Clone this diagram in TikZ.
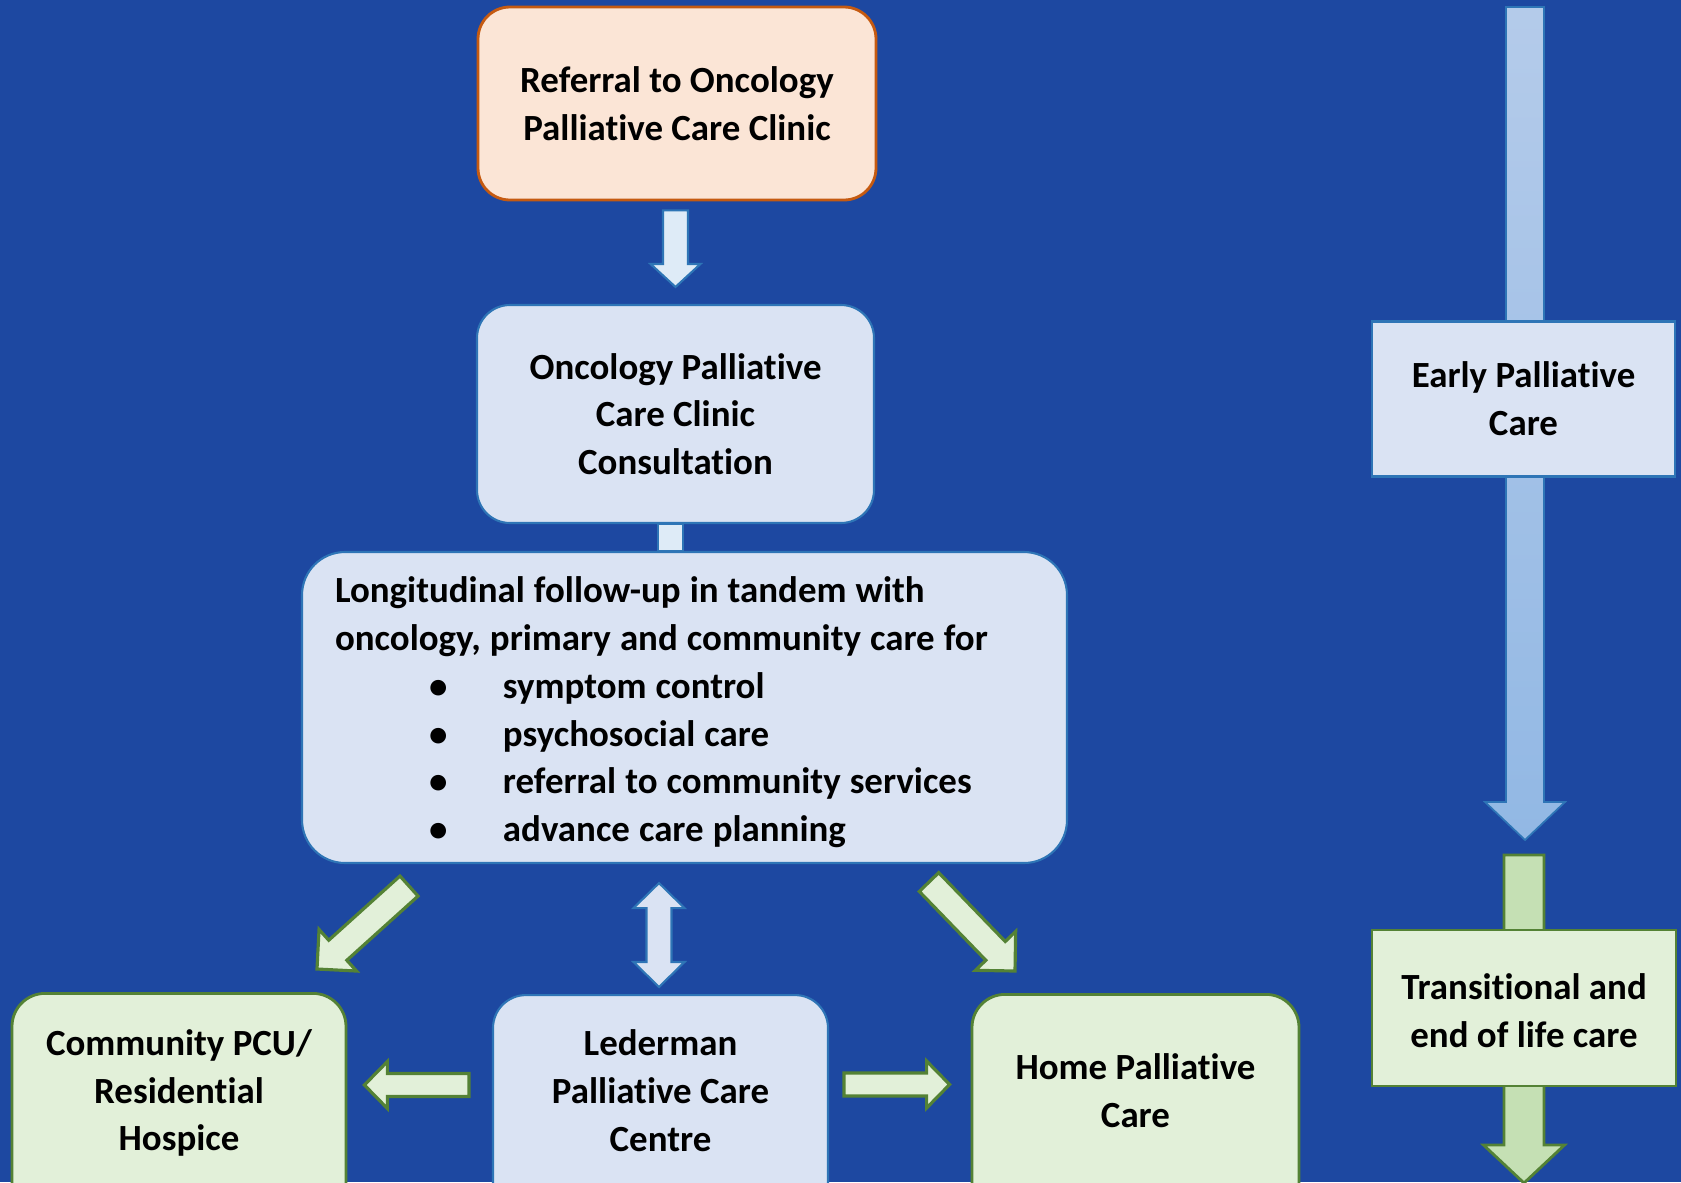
\documentclass[tikz,border=0pt]{standalone}
\usepackage{fontspec}
\setmainfont{Carlito}[Ligatures=NoCommon]
\usepackage{tikz}
\usetikzlibrary{calc}

\definecolor{bgblue}{RGB}{29,72,161}
\definecolor{peach}{RGB}{251,229,214}
\definecolor{rust}{RGB}{197,90,17}
\definecolor{paleblue}{RGB}{218,227,243}
\definecolor{lineblue}{RGB}{46,117,182}
\definecolor{arrowblue}{RGB}{222,235,247}
\definecolor{palegreen}{RGB}{226,240,217}
\definecolor{linegreen}{RGB}{84,130,53}
\definecolor{bargreen}{RGB}{197,224,180}
\definecolor{bartop}{RGB}{180,203,234}
\definecolor{barbot}{RGB}{146,184,228}

% block arrow: style, from, to, half shaft, half head, head length
\newcommand{\blockarr}[6]{%
  \coordinate (ba-h) at ($(#3)!#6!(#2)$);
  \path[#1] ($(#2)!#4!90:(#3)$) -- ($(ba-h)!#4!90:(#3)$) -- ($(ba-h)!#5!90:(#3)$) -- (#3)
    -- ($(ba-h)!#5!-90:(#3)$) -- ($(ba-h)!#4!-90:(#3)$) -- ($(#2)!#4!-90:(#3)$) -- cycle;}
% same with a head at both ends
\newcommand{\dblarr}[6]{%
  \coordinate (da-a) at ($(#2)!#6!(#3)$);
  \coordinate (da-b) at ($(#3)!#6!(#2)$);
  \path[#1] (#2) -- ($(da-a)!#5!90:(#3)$) -- ($(da-a)!#4!90:(#3)$) -- ($(da-b)!#4!90:(#3)$)
    -- ($(da-b)!#5!90:(#3)$) -- (#3) -- ($(da-b)!#5!-90:(#3)$) -- ($(da-b)!#4!-90:(#3)$)
    -- ($(da-a)!#4!-90:(#3)$) -- ($(da-a)!#5!-90:(#3)$) -- cycle;}
\newcommand{\bul}{\hspace*{9.4mm}\makebox[7.4mm][l]{\textbullet}}

\begin{document}
\begin{tikzpicture}[x=0.1mm, y=-0.1mm, every node/.style={font=\bfseries\fontsize{10.5}{13.6}\selectfont}]
\tikzstyle{referral} = [rectangle, rounded corners=3.2mm, draw=rust, line width=0.8pt, fill=peach, align=center]
\tikzstyle{bluebox} = [rectangle, rounded corners=3.3mm, draw=lineblue, line width=0.6pt, fill=paleblue, align=center]
\tikzstyle{greenbox} = [rectangle, rounded corners=3.3mm, draw=linegreen, line width=0.8pt, fill=palegreen, align=center]
\tikzstyle{stage} = [rectangle, line width=0.6pt, align=center, minimum width=30.3mm, minimum height=15.5mm]
\tikzstyle{boxtext} = [align=center, inner sep=0pt]
\tikzstyle{bluearrow} = [draw=lineblue, line width=0.6pt, fill=arrowblue]
\tikzstyle{greenarrow} = [draw=linegreen, line width=0.9pt, fill=palegreen]

\useasboundingbox (0,0) rectangle (1681,1182);
\fill [bgblue] (0,0) rectangle (1681,1182);
\clip (0,0) rectangle (1681,1182);

% left column
\node (ref) [referral, minimum width=39.8mm, minimum height=19.3mm] at (677,103.5) {Referral to Oncology\\Palliative Care Clinic};
\node (cons) [bluebox, minimum width=39.7mm, minimum height=21.8mm] at (675.5,414) {Oncology Palliative\\Care Clinic\\Consultation};
\node (longi) [bluebox, rounded corners=4.3mm, align=left, text width=69.9mm, inner xsep=3.3mm, minimum height=31.1mm] at (684.5,707.5)
  {\spaceskip=0.245em\relax\rule{0pt}{3.55mm}Longitudinal follow-up in tandem with\\oncology, primary and community care for\\\bul symptom control\\\bul psychosocial care\\\bul referral to community services\\\bul advance care planning};

\node (comm) [greenbox, minimum width=33.4mm, minimum height=26mm, anchor=north] at (179,992) {};
\node (led) [bluebox, minimum width=33.5mm, minimum height=26mm, anchor=north] at (660.5,994) {};
\node (home) [greenbox, minimum width=32.7mm, minimum height=26mm, anchor=north] at (1135.5,993) {};
\node (comm-t) [boxtext] at ($(comm.north)+(0,101)$) {Community PCU/\\Residential\\Hospice};
\node (led-t) [boxtext] at ($(led.north)+(0,96.5)$) {Lederman\\Palliative Care\\Centre};
\node (home-t) [boxtext] at ($(home.north)+(0,97.5)$) {Home Palliative\\Care};

\blockarr{bluearrow}{$(ref.south)+(-1.5,9)$}{$(cons.north)+(0,-17)$}{1.25mm}{2.5mm}{2.3mm}
\draw [bluearrow] ($(cons.south)+(-17.5,0)$) rectangle ($(cons.south |- longi.north)+(7.5,0)$);
\blockarr{greenarrow}{$(longi.south)+(-275.5,22)$}{$(comm.north)+(138,-23)$}{1.35mm}{2.8mm}{2.8mm}
\blockarr{greenarrow}{$(longi.south)+(244.5,18)$}{$(home.north)+(-120.5,-22)$}{1.35mm}{2.8mm}{2.8mm}
\dblarr{bluearrow, fill=paleblue}{$(longi.south)+(-25.5,19)$}{$(led.north)+(-1.5,-7)$}{1.25mm}{2.55mm}{2.5mm}
\blockarr{greenarrow}{$(led.north west)+(-23,91)$}{$(comm.north east)+(17,93)$}{1.15mm}{2.35mm}{2.3mm}
\blockarr{greenarrow}{$(led.north east)+(15,90.5)$}{$(home.north west)+(-21,91.5)$}{1.15mm}{2.35mm}{2.3mm}

% right column
\coordinate (ctop) at (1525,7);
\coordinate (cbot) at (1524,1183);
\blockarr{draw=lineblue, line width=0.5pt, top color=bartop, bottom color=barbot}{ctop}{1525,840}{1.9mm}{4.0mm}{3.8mm}
\blockarr{draw=linegreen, line width=0.8pt, fill=bargreen}{1524,855}{cbot}{2.0mm}{4.05mm}{3.8mm}
\node (early) [stage, draw=lineblue, fill=paleblue] at (1523.5,399) {Early Palliative\\Care};
\node (trans) [stage, draw=linegreen, line width=0.8pt, fill=palegreen, minimum width=30.4mm, minimum height=15.6mm] at (1524,1008) {\rule{0pt}{3.1mm}Transitional and\\end of life care};

\end{tikzpicture}
\end{document}
